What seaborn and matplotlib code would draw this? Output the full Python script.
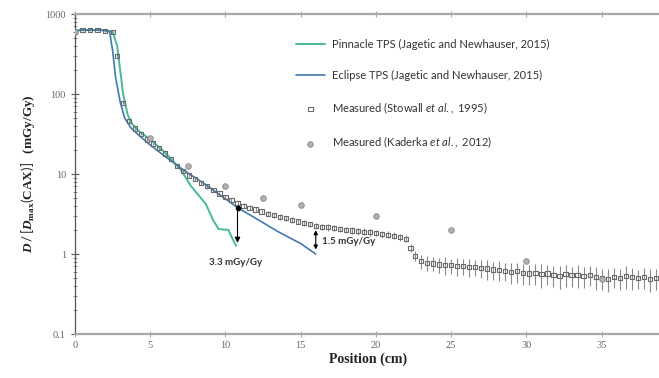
import matplotlib
matplotlib.use("Agg")
import matplotlib.pyplot as plt
import seaborn as sns
import numpy as np
import pandas as pd

# ---------------- data ----------------
pinnacle_x = [0, 0.5, 1.0, 1.5, 2.0, 2.5, 2.8, 3.0, 3.2, 3.5, 3.8, 4.2, 5.0, 6.0, 7.0, 7.7, 8.7, 9.2, 9.55, 10.2, 10.3, 10.7]
pinnacle_y = [620, 630, 630, 630, 630, 600, 400, 200, 100, 55, 42, 35, 27, 18.5, 11.5, 7.1, 4.2, 2.6, 2.05, 2.0, 1.8, 1.27]

eclipse_x = [0, 0.5, 1.0, 1.5, 2.0, 2.3, 2.5, 2.7, 3.0, 3.3, 3.7, 4.2, 5.0, 6.0, 7.0, 7.5, 8.5, 9.5, 10.8, 12.0, 13.5, 15.0, 16.0]
eclipse_y = [620, 630, 630, 630, 620, 600, 350, 160, 80, 50, 38, 31, 23, 16.5, 12, 10.3, 7.8, 5.7, 3.8, 2.8, 1.9, 1.35, 1.0]

stovall_x = [0, 0.5, 1.0, 1.5, 2.0, 2.5, 2.8, 3.2, 3.6, 4.0, 4.4, 4.8, 5.2, 5.6, 6.0, 6.4, 6.8, 7.2,
             7.6, 8.0, 8.4, 8.8, 9.2, 9.6, 10.0, 10.4, 10.8, 11.2, 11.6, 12.0, 12.4, 12.8, 13.2, 13.6,
             14.0, 14.4, 14.8, 15.2, 15.6, 16.0, 16.4, 16.8, 17.2, 17.6, 18.0, 18.4, 18.8, 19.2, 19.6,
             20.0, 20.4, 20.8, 21.2, 21.6, 22.0, 22.3, 22.6, 23.0, 23.4, 23.8, 24.2, 24.6, 25.0, 25.4,
             25.8, 26.2, 26.6, 27.0, 27.4, 27.8, 28.2, 28.6, 29.0, 29.4, 29.8, 30.2, 30.6, 31.0, 31.4,
             31.8, 32.2, 32.6, 33.0, 33.4, 33.8, 34.2, 34.6, 35.0, 35.4, 35.8, 36.2, 36.6, 37.0, 37.4,
             37.8, 38.2, 38.6]
stovall_y = [600, 625, 625, 625, 620, 590, 300, 78, 46, 37, 32, 27, 24, 21, 18, 15.5, 12.5, 10.8,
             9.6, 8.6, 7.7, 7.0, 6.3, 5.7, 5.2, 4.7, 4.3, 4.0, 3.8, 3.6, 3.4, 3.2, 3.05, 2.9,
             2.8, 2.65, 2.55, 2.45, 2.35, 2.25, 2.2, 2.15, 2.1, 2.05, 2.0, 1.97, 1.93, 1.9, 1.87,
             1.84, 1.78, 1.74, 1.69, 1.63, 1.55, 1.2, 0.95, 0.82, 0.78, 0.76, 0.74, 0.73, 0.72, 0.71,
             0.70, 0.69, 0.69, 0.67, 0.66, 0.64, 0.63, 0.62, 0.60, 0.61, 0.58, 0.57, 0.58, 0.56, 0.57,
             0.55, 0.53, 0.56, 0.54, 0.55, 0.53, 0.55, 0.52, 0.50, 0.49, 0.52, 0.50, 0.53, 0.51, 0.50,
             0.52, 0.49, 0.50]
stovall_rel_err = [0.03, 0.03, 0.03, 0.03, 0.03, 0.03, 0.04, 0.05, 0.05, 0.05, 0.05, 0.05, 0.05, 0.05, 0.05, 0.05, 0.05, 0.05,
                   0.05, 0.05, 0.06, 0.06, 0.06, 0.06, 0.06, 0.06, 0.07, 0.07, 0.07, 0.07, 0.07, 0.07, 0.08, 0.08,
                   0.08, 0.08, 0.08, 0.08, 0.08, 0.09, 0.09, 0.09, 0.09, 0.09, 0.09, 0.10, 0.10, 0.10, 0.10,
                   0.10, 0.10, 0.10, 0.10, 0.10, 0.10, 0.12, 0.15, 0.20, 0.22, 0.20, 0.22, 0.25, 0.22, 0.25,
                   0.22, 0.25, 0.22, 0.25, 0.28, 0.25, 0.28, 0.25, 0.30, 0.28, 0.30, 0.28, 0.30, 0.32, 0.28,
                   0.30, 0.32, 0.30, 0.28, 0.32, 0.30, 0.28, 0.32, 0.30, 0.32, 0.28, 0.30, 0.32, 0.30, 0.28,
                   0.30, 0.32, 0.30]

kaderka_x = [0, 5, 7.5, 10, 12.5, 15, 20, 25, 30, 35]
kaderka_y = [600, 28, 12.7, 7.0, 5.0, 4.1, 3.0, 2.0, 0.81, 0.49]

x_ticks = [0, 5, 10, 15, 20, 25, 30, 35]
y_ticks = [0.1, 1, 10, 100, 1000]
y_tick_labels = ["0.1", "1", "10", "100", "1000"]

# ---------------- style ----------------
sns.set_theme(style="white")
plt.rcParams["font.family"] = ["Lato", "DejaVu Sans"]
plt.rcParams["mathtext.fontset"] = "custom"
plt.rcParams["mathtext.rm"] = "Lato"
plt.rcParams["mathtext.it"] = "Lato:italic"
plt.rcParams["mathtext.bf"] = "Liberation Serif:bold"
plt.rcParams["mathtext.bfit"] = "Liberation Serif:bold:italic"

W, H = 659, 378
fig = plt.figure(figsize=(W / 100, H / 100), dpi=100)
ax = fig.add_axes([75 / W, 1 - 334 / H, (W - 75) / W + 0.002, 320 / H])

pin_col = "#45bb98"
ecl_col = "#4079b2"

df_p = pd.DataFrame({"x": pinnacle_x, "y": pinnacle_y})
df_e = pd.DataFrame({"x": eclipse_x, "y": eclipse_y})
df_s = pd.DataFrame({"x": stovall_x, "y": stovall_y, "e": stovall_rel_err})
df_k = pd.DataFrame({"x": kaderka_x, "y": kaderka_y})

# Stovall error bars
yerr = df_s["y"] * df_s["e"]
ax.errorbar(df_s["x"], df_s["y"], yerr=yerr, fmt="none", ecolor="#8a8a8a",
            elinewidth=0.8, capsize=0, zorder=2)

sns.lineplot(data=df_p, x="x", y="y", ax=ax, color=pin_col, lw=1.4,
             sort=False, estimator=None, zorder=3, label="Pinnacle TPS (Jagetic and Newhauser, 2015)")
sns.lineplot(data=df_e, x="x", y="y", ax=ax, color=ecl_col, lw=1.2,
             sort=False, estimator=None, zorder=3, label="Eclipse TPS (Jagetic and Newhauser, 2015)")
sns.scatterplot(data=df_s, x="x", y="y", ax=ax, marker="s", s=9, facecolor="none",
                edgecolor="#6a6a6a", linewidth=0.8, zorder=4,
                label=r"Measured (Stowall $et\ al.,$ 1995)")
sns.scatterplot(data=df_k, x="x", y="y", ax=ax, marker="o", s=16, color="#b8b0b0",
                edgecolor="#8a8080", linewidth=0.6, zorder=4,
                label=r"Measured (Kaderka $et\ al.,$ 2012)")

ax.set_yscale("log")
ax.set_xlim(0, 38.9)
ax.set_ylim(0.1, 1000)
ax.set_xticks(x_ticks)
ax.set_xticklabels([str(t) for t in x_ticks], family="Liberation Serif", fontsize=7.5, color="#666666")
ax.set_yticks(y_ticks)
ax.set_yticklabels(y_tick_labels, family="Liberation Serif", fontsize=7.5, color="#666666")
ax.yaxis.set_minor_locator(matplotlib.ticker.LogLocator(base=10, subs=np.arange(2, 10)))
ax.yaxis.set_minor_formatter(matplotlib.ticker.NullFormatter())
ax.tick_params(axis="y", which="major", direction="inout", length=6, width=0.8, color="#555555", left=True)
ax.tick_params(axis="y", which="minor", direction="inout", length=3, width=0.6, color="#777777", left=True)
ax.tick_params(axis="x", which="major", direction="inout", length=4, width=0.8, color="#aaaaaa",
               bottom=True, top=True, pad=3)

for s in ["top", "bottom"]:
    ax.spines[s].set_color("#a8a8a8")
    ax.spines[s].set_linewidth(1.6)
ax.spines["left"].set_color("#555555")
ax.spines["left"].set_linewidth(0.9)
ax.spines["right"].set_visible(False)

ax.set_xlabel("Position (cm)", family="Liberation Serif", fontweight="bold", fontsize=10,
              color="#222222", labelpad=2)
ax.set_ylabel(r"$\mathbfit{D}\,/\,[\mathbfit{D}_{\mathbf{max}}(\mathbf{CAX})]$   (mGy/Gy)",
              family="Liberation Serif", fontweight="bold", fontsize=9.5, color="#222222", labelpad=6)

# annotations
ax.annotate("", xy=(10.8, 1.27), xytext=(10.8, 3.8),
            arrowprops=dict(arrowstyle="-|>", color="black", lw=0.8, mutation_scale=8))
ax.plot([10.8], [3.8], marker="o", ms=3, color="black", zorder=5)
ax.annotate("", xy=(16.0, 1.05), xytext=(16.0, 2.15),
            arrowprops=dict(arrowstyle="<|-|>", color="black", lw=0.8, mutation_scale=6))
ax.text(10.7, 0.78, "3.3 mGy/Gy", ha="center", va="center", fontsize=7, fontweight="bold", color="#333333")
ax.text(16.4, 1.45, "1.5 mGy/Gy", ha="left", va="center", fontsize=7, fontweight="bold", color="#333333")

leg = ax.legend(loc="upper left", bbox_to_anchor=(0.37, 0.935), frameon=False, fontsize=8,
                handlelength=2.6, labelspacing=1.75, handletextpad=0.6, borderaxespad=0)
for t in leg.get_texts():
    t.set_color("#333333")

fig.savefig("out.png", dpi=100)
